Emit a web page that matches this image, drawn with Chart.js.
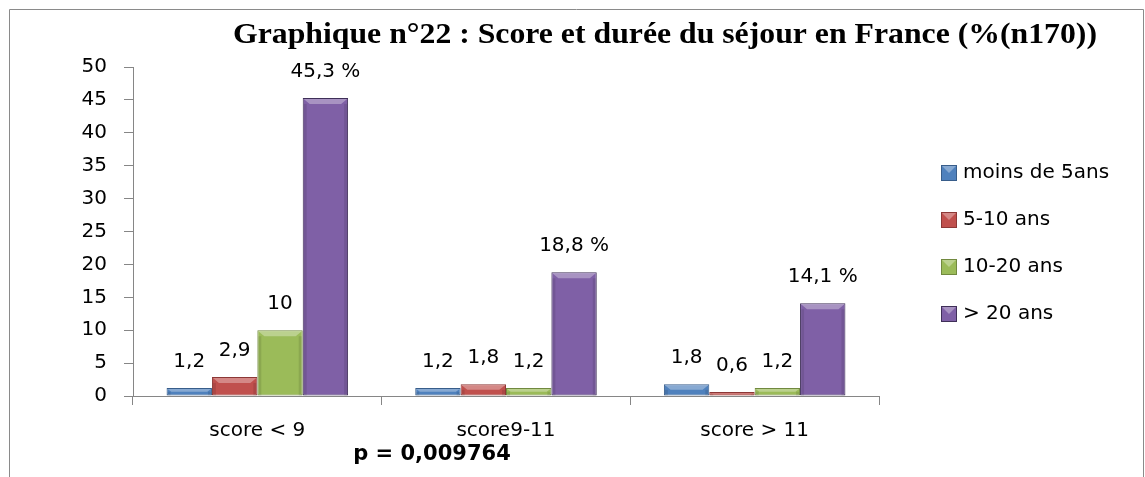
<!DOCTYPE html>
<html>
<head>
<meta charset="utf-8">
<script src="https://cdn.jsdelivr.net/npm/chart.js@4.4.0/dist/chart.umd.min.js"></script>
<style>
  html, body { margin: 0; padding: 0; background: #ffffff; }
  #wrap { width: 1145px; height: 477px; }
</style>
</head>
<body>
<div id="wrap"><canvas id="chart" width="1145" height="477"></canvas></div>
<script>
// données
const categories = ['score < 9', 'score9-11', 'score > 11'];
const seriesNames = ['moins de 5ans', '5-10 ans', '10-20 ans', '> 20 ans'];
const moinsDe5ans = [1.2, 1.2, 1.8];
const de5a10ans = [2.9, 1.8, 0.6];
const de10a20ans = [10, 1.2, 1.2];
const plusDe20ans = [45.3, 18.8, 14.1];
const yMin = 0, yMax = 50, yStep = 5;
const titleText = 'Graphique n°22 : Score et durée du séjour en France (%(n170))';
const pValueText = 'p = 0,009764';

const fillColors = ['#4F81BD', '#C0504D', '#9BBB59', '#7F60A6'];
const edgeColors = ['#385D8A', '#8C3836', '#71893F', '#3F2F58'];
const axisColor = '#868686';
const labelFont = { family: 'DejaVu Sans', size: 20 };

function fmt(v) {
  return String(v).replace('.', ',');
}

// petit effet biseauté sur le haut des barres (style Excel)
function drawBevel(ctx, bar) {
  const half = bar.width / 2;
  const left = bar.x - half, right = bar.x + half;
  const top = bar.y, bottom = bar.base;
  const b = Math.min(6, (bottom - top) / 2);
  ctx.fillStyle = 'rgba(255,255,255,0.32)';
  ctx.beginPath();
  ctx.moveTo(left + 1, top + 1);
  ctx.lineTo(right - 1, top + 1);
  ctx.lineTo(right - 1 - b, top + b);
  ctx.lineTo(left + 1 + b, top + b);
  ctx.closePath();
  ctx.fill();
  ctx.fillStyle = 'rgba(0,0,0,0.10)';
  ctx.fillRect(left + 1, top + b, 3, bottom - top - b);
  ctx.fillRect(right - 4, top + b, 3, bottom - top - b);
}

const decorPlugin = {
  id: 'decor',
  beforeDraw(chart) {
    // cadre gris autour du graphique
    const ctx = chart.ctx;
    ctx.save();
    ctx.strokeStyle = '#8a8a8a';
    ctx.lineWidth = 1;
    ctx.beginPath();
    ctx.moveTo(9.5, chart.height);
    ctx.lineTo(9.5, 9.5);
    ctx.lineTo(1143.5, 9.5);
    ctx.lineTo(1143.5, chart.height);
    ctx.stroke();
    ctx.restore();
  },
  afterDatasetsDraw(chart) {
    const ctx = chart.ctx;
    const area = chart.chartArea;
    ctx.save();

    chart.data.datasets.forEach((ds, i) => {
      chart.getDatasetMeta(i).data.forEach(bar => drawBevel(ctx, bar));
    });

    // étiquettes au-dessus des barres
    ctx.fillStyle = '#000';
    ctx.font = labelFont.size + 'px "' + labelFont.family + '"';
    ctx.textAlign = 'center';
    ctx.textBaseline = 'middle';
    chart.data.datasets.forEach((ds, i) => {
      const meta = chart.getDatasetMeta(i);
      meta.data.forEach((bar, j) => {
        let txt = fmt(ds.data[j]);
        if (i === 3) txt += ' %';
        ctx.fillText(txt, bar.x, bar.y - 26);
      });
    });

    // titre (un peu étiré comme sur l'original)
    ctx.font = 'bold 29px "Liberation Serif"';
    const tw = ctx.measureText(titleText).width;
    ctx.save();
    ctx.translate(665, 36);
    ctx.scale(864 / tw, 1);
    ctx.fillText(titleText, 0, 0);
    ctx.restore();

    // p
    ctx.font = 'bold 21px "DejaVu Sans"';
    ctx.fillText(pValueText, 432, area.bottom + 59);

    // légende
    ctx.font = labelFont.size + 'px "' + labelFont.family + '"';
    ctx.textAlign = 'left';
    const lx = area.right + 62;
    let ly = area.top + 106;
    chart.data.datasets.forEach((ds, i) => {
      ctx.fillStyle = ds.backgroundColor;
      ctx.fillRect(lx, ly - 8, 16, 16);
      ctx.fillStyle = 'rgba(255,255,255,0.32)';
      ctx.beginPath();
      ctx.moveTo(lx, ly - 8);
      ctx.lineTo(lx + 16, ly - 8);
      ctx.lineTo(lx + 8, ly);
      ctx.closePath();
      ctx.fill();
      ctx.strokeStyle = ds.borderColor;
      ctx.strokeRect(lx + 0.5, ly - 7.5, 15, 15);
      ctx.fillStyle = '#000';
      ctx.fillText(ds.label, lx + 22, ly);
      ly += 47;
    });
    ctx.restore();
  }
};

const seriesValues = [moinsDe5ans, de5a10ans, de10a20ans, plusDe20ans];

const ctx = document.getElementById('chart').getContext('2d');
const chart = new Chart(ctx, {
  type: 'bar',
  data: {
    labels: categories,
    datasets: seriesValues.map((vals, i) => ({
      label: seriesNames[i],
      data: vals,
      backgroundColor: fillColors[i],
      borderColor: edgeColors[i],
      borderWidth: 1,
      borderSkipped: false,
      categoryPercentage: 0.73,
      barPercentage: 1
    }))
  },
  options: {
    responsive: false,
    animation: false,
    devicePixelRatio: 1,
    layout: {
      padding: { left: 0, right: 266, top: 67, bottom: 0 }
    },
    plugins: {
      legend: { display: false },
      title: { display: false },
      tooltip: { enabled: false }
    },
    scales: {
      x: {
        grid: {
          display: true,
          drawOnChartArea: false,
          offset: true,
          color: axisColor,
          tickLength: 9
        },
        border: { color: axisColor, width: 1 },
        ticks: {
          color: '#000',
          font: labelFont,
          padding: 14
        },
        afterFit(scale) { scale.height = 81; }
      },
      y: {
        min: yMin,
        max: yMax,
        grid: {
          display: true,
          drawOnChartArea: false,
          color: axisColor,
          tickLength: 9
        },
        border: { color: axisColor, width: 1 },
        ticks: {
          stepSize: yStep,
          color: '#000',
          font: labelFont,
          padding: 17
        },
        afterFit(scale) { scale.width = 133; }
      }
    }
  },
  plugins: [decorPlugin]
});
</script>
</body>
</html>
